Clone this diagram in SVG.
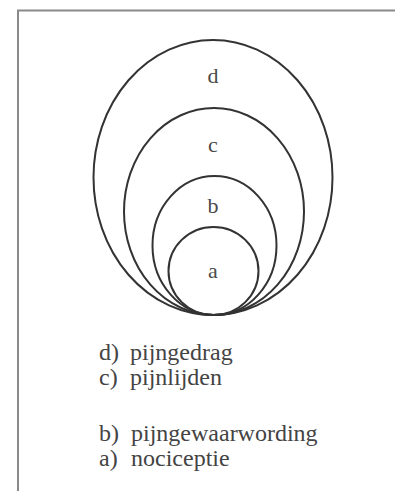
<svg xmlns="http://www.w3.org/2000/svg" width="395" height="491" viewBox="0 0 395 491">
<style>
.frame{stroke:#8a8a8a;stroke-width:2;fill:none}
.ring{stroke:#333;stroke-width:2;fill:none}
.lbl{font-family:"Liberation Serif","Times New Roman",serif;font-size:22px;fill:#4a4a4a;text-anchor:middle}
.leg{font-family:"Liberation Serif","Times New Roman",serif;font-size:24px;fill:#444}
</style>
<rect width="395" height="491" fill="#fff"/>
<path class="frame" d="M18,491 V10.5 H395"/>
<g id="d"><ellipse class="ring" cx="213" cy="177.5" rx="119.5" ry="137.5"/><text class="lbl" x="213" y="83">d</text></g>
<g id="c"><ellipse class="ring" cx="214" cy="211.5" rx="90" ry="103.5"/><text class="lbl" x="213" y="152">c</text></g>
<g id="b"><ellipse class="ring" cx="214.5" cy="245.5" rx="62" ry="69.5"/><text class="lbl" x="213" y="213">b</text></g>
<g id="a"><ellipse class="ring" cx="213.5" cy="271" rx="45" ry="44"/><text class="lbl" x="213" y="278">a</text></g>
<g id="legend">
<text class="leg" x="99" y="360">d)<tspan x="130">pijngedrag</tspan></text>
<text class="leg" x="99" y="385">c)<tspan x="130">pijnlijden</tspan></text>
<text class="leg" x="99" y="441">b)<tspan x="131">pijngewaarwording</tspan></text>
<text class="leg" x="99" y="466">a)<tspan x="131">nociceptie</tspan></text>
</g>
</svg>
